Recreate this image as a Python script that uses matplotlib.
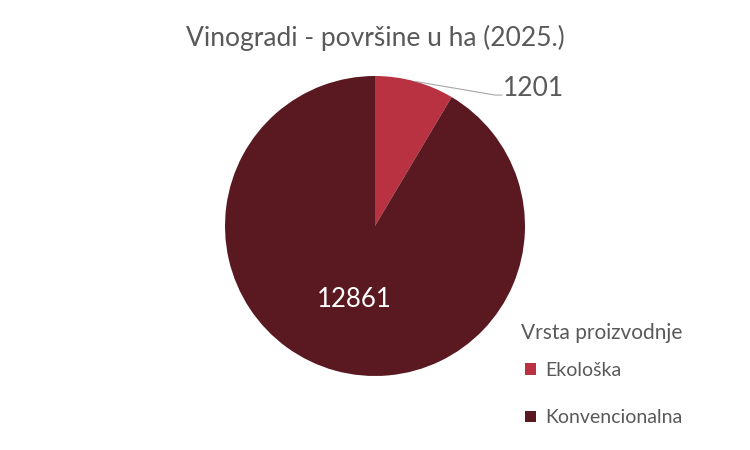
import matplotlib.pyplot as plt
import numpy as np

categories = ['Ekološka', 'Konvencionalna']
values = [1201, 12861]
colors = ['#b83242', '#5a1820']
title = 'Vinogradi - površine u ha (2025.)'
legend_title = 'Vrsta proizvodnje'

plt.rcParams['font.family'] = ['Lato', 'DejaVu Sans']
grey = '#595959'

fig = plt.figure(figsize=(7.5, 4.5), dpi=100)
fig.patch.set_facecolor('white')
ax = fig.add_axes([225 / 750, 74 / 450, 300 / 750, 300 / 450])

wedges, _ = ax.pie(values, colors=colors, startangle=90, counterclock=False,
                   wedgeprops=dict(linewidth=0))
ax.set_xlim(-1, 1)
ax.set_ylim(-1, 1)
ax.set_aspect('equal')

# small slice: label outside with leader line
w = wedges[0]
mid = np.deg2rad((w.theta1 + w.theta2) / 2)
lx, ly = 0.85, 0.92
ax.plot([np.cos(mid), 0.80, 0.845], [np.sin(mid), 0.873, 0.873],
        color='#a6a6a6', lw=0.8, clip_on=False)
ax.text(lx, ly, str(values[0]), ha='left', va='center', fontsize=19, color=grey)

# large slice: label inside
w = wedges[1]
mid = np.deg2rad((w.theta1 + w.theta2) / 2)
ax.text(0.51 * np.cos(mid), 0.51 * np.sin(mid), str(values[1]),
        ha='center', va='center', fontsize=18.5, color='white')

fig.text(0.5, 1 - 38 / 450, title, ha='center', va='center', fontsize=19, color=grey)

fig.text(521 / 750, 1 - 333 / 450, legend_title, ha='left', va='center',
         fontsize=15, color=grey)
leg = fig.legend(wedges, categories, loc='upper left',
                 bbox_to_anchor=(525 / 750, 1 - 362 / 450), frameon=False,
                 fontsize=14, handlelength=0.55, handleheight=0.55,
                 handletextpad=0.5, labelspacing=1.56, borderpad=0, borderaxespad=0)
for t in leg.get_texts():
    t.set_color(grey)

fig.savefig('out.png', dpi=100)
